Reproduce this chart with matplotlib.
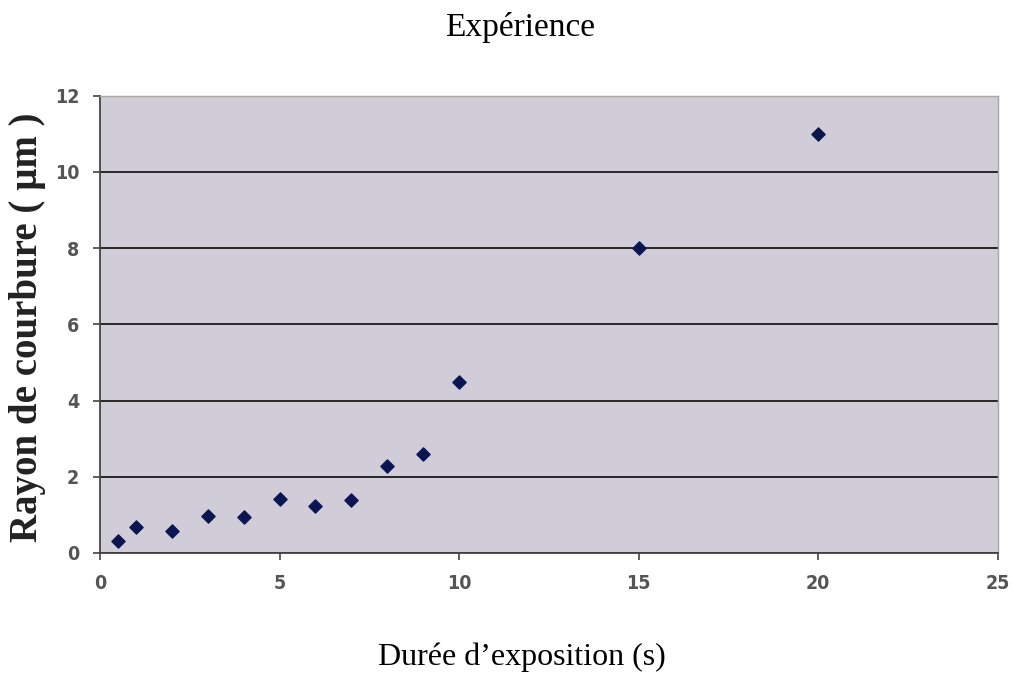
import matplotlib.pyplot as plt

# --- DATA ---
duree = [0.5, 1, 2, 3, 4, 5, 6, 7, 8, 9, 10, 15, 20]
rayon = [0.32, 0.69, 0.58, 0.97, 0.94, 1.41, 1.23, 1.39, 2.27, 2.59, 4.49, 8.0, 11.0]
x_ticks = [0, 5, 10, 15, 20, 25]
y_ticks = [0, 2, 4, 6, 8, 10, 12]

# --- STYLE ---
bg_color = "#d0ccd8"
marker_color = "#0b1650"
tick_color = "#555555"
serif = ["Liberation Serif", "DejaVu Serif"]

fig = plt.figure(figsize=(10.13, 6.78), dpi=100)
ax = fig.add_axes([0.0987, 0.1844, 0.8863, 0.6746])
ax.set_facecolor(bg_color)

ax.scatter(duree, rayon, marker="D", s=45, color=marker_color, zorder=3)

ax.set_xlim(0, 25)
ax.set_ylim(0, 12)
ax.set_xticks(x_ticks)
ax.set_yticks(y_ticks)
ax.yaxis.grid(True, color="#1a1a1a", linewidth=1.3)
ax.set_axisbelow(True)

for side in ["left", "bottom"]:
    ax.spines[side].set_color("#444444")
    ax.spines[side].set_linewidth(1.3)
for side in ["top", "right"]:
    ax.spines[side].set_color("#a8a8a8")
    ax.spines[side].set_linewidth(1.0)

ax.tick_params(direction="out", length=5, width=1.2, color="#444444",
               labelcolor=tick_color, pad=10)
for lab in ax.get_xticklabels() + ax.get_yticklabels():
    lab.set_family("DejaVu Sans")
    lab.set_fontstretch("condensed")
    lab.set_fontweight("bold")
    lab.set_fontsize(14)

fig.text(0.513, 0.96, "Expérience", ha="center", va="center",
         family=serif, fontsize=24)
fig.text(0.515, 0.03, "Durée d\u2019exposition (s)", ha="center", va="center",
         family=serif, fontsize=23)
fig.text(0.027, 0.518, "Rayon de courbure ( µm )", ha="center", va="center",
         rotation=90, family=serif, fontsize=28, fontweight="bold",
         color="#222222")

fig.savefig("out.png", dpi=100)
